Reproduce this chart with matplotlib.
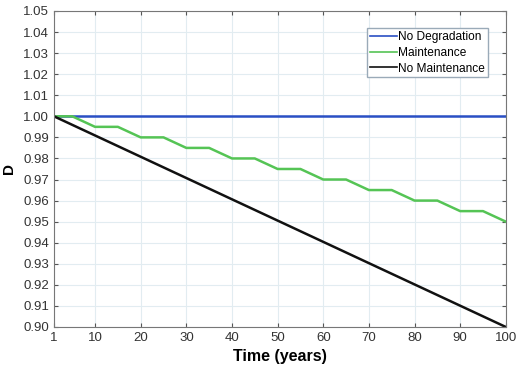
import matplotlib
matplotlib.use("Agg")
import matplotlib.pyplot as plt

# データ
years_nd = [1, 100]
d_nd = [1.0, 1.0]

years_m = [1, 5, 10, 15, 20, 25, 30, 35, 40, 45, 50, 55, 60, 65, 70, 75, 80, 85, 90, 95, 100]
d_m = [1.0, 1.0, 0.995, 0.995, 0.99, 0.99, 0.985, 0.985, 0.98, 0.98, 0.975,
       0.975, 0.97, 0.97, 0.965, 0.965, 0.96, 0.96, 0.955, 0.955, 0.95]

years_nm = [1, 100]
d_nm = [1.0, 0.9]

x_ticks = [1, 10, 20, 30, 40, 50, 60, 70, 80, 90, 100]
y_ticks = [0.90, 0.91, 0.92, 0.93, 0.94, 0.95, 0.96, 0.97, 0.98, 0.99,
           1.00, 1.01, 1.02, 1.03, 1.04, 1.05]

plt.rcParams["font.family"] = ["Liberation Sans", "DejaVu Sans"]

fig = plt.figure(figsize=(5.22, 3.66), dpi=100)
ax = fig.add_axes([0.1034, 0.1066, 0.8656, 0.8634])

ax.plot(years_nd, d_nd, color="#2a4fc4", linewidth=1.8, label="No Degradation")
ax.plot(years_m, d_m, color="#55c455", linewidth=1.8, label="Maintenance")
ax.plot(years_nm, d_nm, color="#111111", linewidth=1.8, label="No Maintenance")

ax.set_xlim(1, 100)
ax.set_ylim(0.90, 1.05)
ax.set_xticks(x_ticks)
ax.set_yticks(y_ticks)
ax.set_yticklabels([f"{v:.2f}" for v in y_ticks])

ax.grid(True, color="#e2ecf1", linewidth=0.8)
ax.set_axisbelow(True)
ax.tick_params(direction="in", top=True, right=True, labelsize=9.5,
               colors="#555555", labelcolor="#333333", length=3)
for s in ax.spines.values():
    s.set_color("#777777")
    s.set_linewidth(0.8)

ax.set_xlabel("Time (years)", fontsize=11.5, fontweight="bold", labelpad=4)
ax.set_ylabel("D", fontsize=11, fontweight="bold", labelpad=5)

leg = ax.legend(loc="upper right", bbox_to_anchor=(0.96, 0.945), fontsize=8.6,
                fancybox=False, framealpha=1, edgecolor="#9aaab8",
                handlelength=2.2, handletextpad=0.1, borderpad=0.25,
                labelspacing=0.3, borderaxespad=0)
for line in leg.get_lines():
    line.set_linewidth(1.2)

fig.savefig("out.png", dpi=100)
